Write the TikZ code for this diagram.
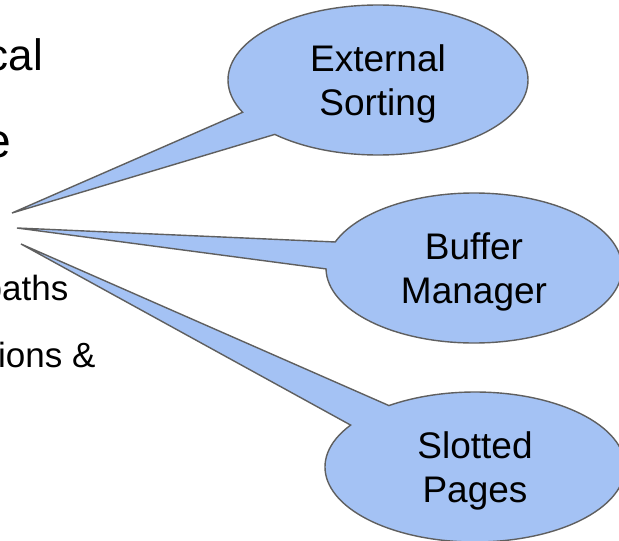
\documentclass[tikz,border=0pt]{standalone}
\usepackage{fontspec}
\setmainfont{Liberation Sans}
\usetikzlibrary{shapes.callouts}
\definecolor{bubblefill}{HTML}{A4C2F4}
\definecolor{bubbleline}{HTML}{5F5F5F}
\tikzset{
  bubble/.style={ellipse callout, draw=bubbleline, fill=bubblefill, line width=1.4pt,
    minimum width=300pt, minimum height=150pt, align=center, inner sep=0pt,
    text depth=0pt, callout pointer arc=21, font=\fontsize{37}{44}\selectfont},
  slidetext/.style={inner sep=0pt, text=black}
}
\begin{document}
\begin{tikzpicture}[x=1pt, y=-1pt]
	% Frame and clip
	\useasboundingbox (0,0) rectangle (619,541);
	\clip (0,0) rectangle (619,541);
	\fill[white] (0,0) rectangle (619,541);
	% Slide text cut at the left edge
	\node[slidetext, anchor=base east, font=\fontsize{44}{50}\selectfont] (title1) at (43,70) {cal};
	\node[slidetext, anchor=base east, font=\fontsize{48}{54}\selectfont] (title2) at (11,157) {e};
	\node[slidetext, anchor=base west, font=\fontsize{35}{40}\selectfont] (item1) at (-17.5,300) {paths};
	\node[slidetext, anchor=base west, font=\fontsize{35}{40}\selectfont] (item2) at (-2,367) {ions \&};
	% Tips of the callouts
	\coordinate (sortTip) at (12,213);
	\coordinate (bufTip) at (17,228);
	\coordinate (pageTip) at (21,244);
	% Callouts
	\node[bubble, callout absolute pointer={(sortTip)}] (sorting) at (378,80) {External\\Sorting};
	\node[bubble, callout absolute pointer={(bufTip)}, minimum width=296pt] (buffer) at (474,268) {Buffer\\Manager};
	\node[bubble, callout absolute pointer={(pageTip)}] (pages) at (475,467) {Slotted\\Pages};
\end{tikzpicture}
\end{document}
